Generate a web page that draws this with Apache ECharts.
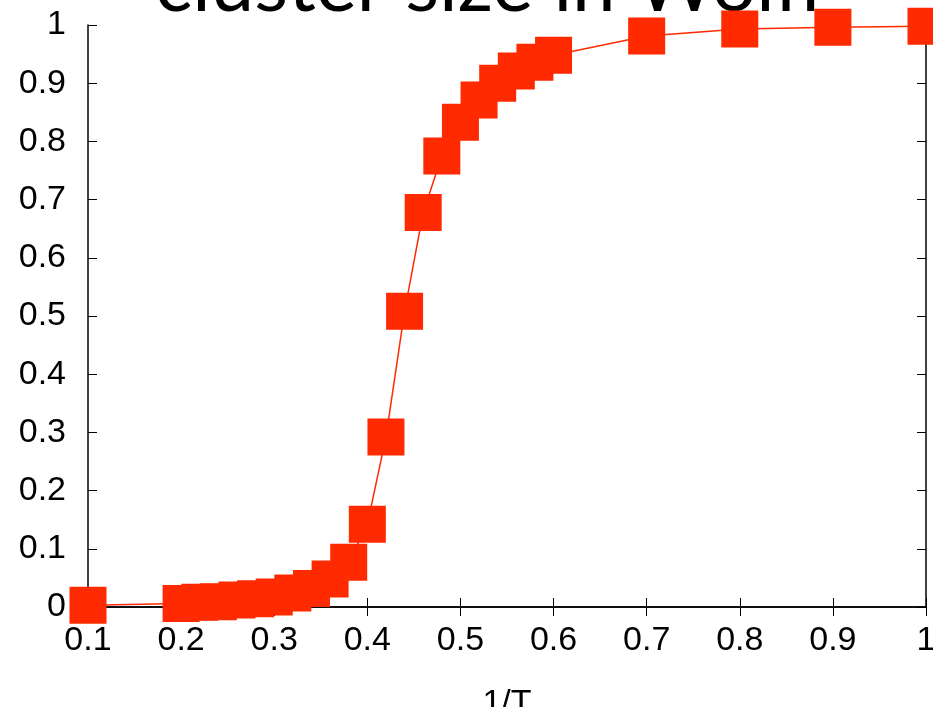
<!DOCTYPE html>
<html>
<head>
<meta charset="utf-8">
<script src="https://cdn.jsdelivr.net/npm/echarts@6/dist/echarts.min.js"></script>
<style>html,body{margin:0;padding:0;background:#fff;}#c{width:933px;height:707px;}</style>
</head>
<body>
<div id="c"></div>
<script>
var titleText = 'cluster size in Wolff';
var xName = '1/T';
var xVals = [0.1, 0.2, 0.22, 0.24, 0.26, 0.28, 0.30, 0.32, 0.34, 0.36, 0.38, 0.40, 0.42, 0.44, 0.46, 0.48, 0.50, 0.52, 0.54, 0.56, 0.58, 0.60, 0.7, 0.8, 0.9, 1.0];
var yVals = [0.003, 0.006, 0.008, 0.009, 0.012, 0.014, 0.017, 0.024, 0.032, 0.048, 0.077, 0.142, 0.292, 0.508, 0.678, 0.775, 0.833, 0.871, 0.900, 0.921, 0.936, 0.948, 0.981, 0.993, 0.996, 0.998];

var data = xVals.map(function (x, i) { return [x, yVals[i]]; });
var red = '#ff2a00';
var lblFont = 'Liberation Sans';

var chart = echarts.init(document.getElementById('c'), null, {renderer: 'canvas'});
chart.setOption({
  animation: false,
  backgroundColor: '#fff',
  title: {
    text: titleText,
    left: 150,
    top: -58,
    z: 0,
    textStyle: {fontFamily: 'Lato', fontWeight: 'normal', fontSize: 78, color: '#000'}
  },
  grid: {left: 88, right: 7, top: 25, bottom: 100, containLabel: false, outerBoundsMode: 'none'},
  xAxis: [{
    type: 'value', position: 'bottom', min: 0.1, max: 1, interval: 0.1,
    name: xName, nameLocation: 'middle', nameGap: 80,
    nameTextStyle: {fontFamily: lblFont, fontSize: 34, color: '#000'},
    axisLine: {show: true, lineStyle: {color: '#000', width: 1.5}},
    axisTick: {show: true, inside: true, length: 9, lineStyle: {color: '#000', width: 1}},
    axisLabel: {margin: 17, fontFamily: lblFont, fontSize: 34, color: '#000'},
    splitLine: {show: false}
  }, {
    type: 'value', position: 'top', min: 0.1, max: 1, interval: 0.1,
    axisLine: {show: true, lineStyle: {color: '#000', width: 1.5}},
    axisTick: {show: true, inside: true, length: 9, lineStyle: {color: '#000', width: 1}},
    axisLabel: {show: false},
    splitLine: {show: false}
  }],
  yAxis: [{
    type: 'value', position: 'left', min: 0, max: 1, interval: 0.1,
    axisLine: {show: true, lineStyle: {color: '#000', width: 1.5}},
    axisTick: {show: true, inside: true, length: 9, lineStyle: {color: '#000', width: 1}},
    axisLabel: {margin: 22, fontFamily: lblFont, fontSize: 34, color: '#000'},
    splitLine: {show: false}
  }, {
    type: 'value', position: 'right', min: 0, max: 1, interval: 0.1,
    axisLine: {show: true, lineStyle: {color: '#000', width: 1.5}},
    axisTick: {show: true, inside: true, length: 9, lineStyle: {color: '#000', width: 1}},
    axisLabel: {show: false},
    splitLine: {show: false}
  }],
  series: [{
    type: 'line',
    data: data,
    xAxisIndex: 0, yAxisIndex: 0,
    clip: false,
    z: 3,
    symbol: 'rect',
    symbolSize: 37,
    showAllSymbol: true,
    lineStyle: {color: red, width: 1.5},
    itemStyle: {color: red, borderWidth: 0}
  }]
});
</script>
</body>
</html>
